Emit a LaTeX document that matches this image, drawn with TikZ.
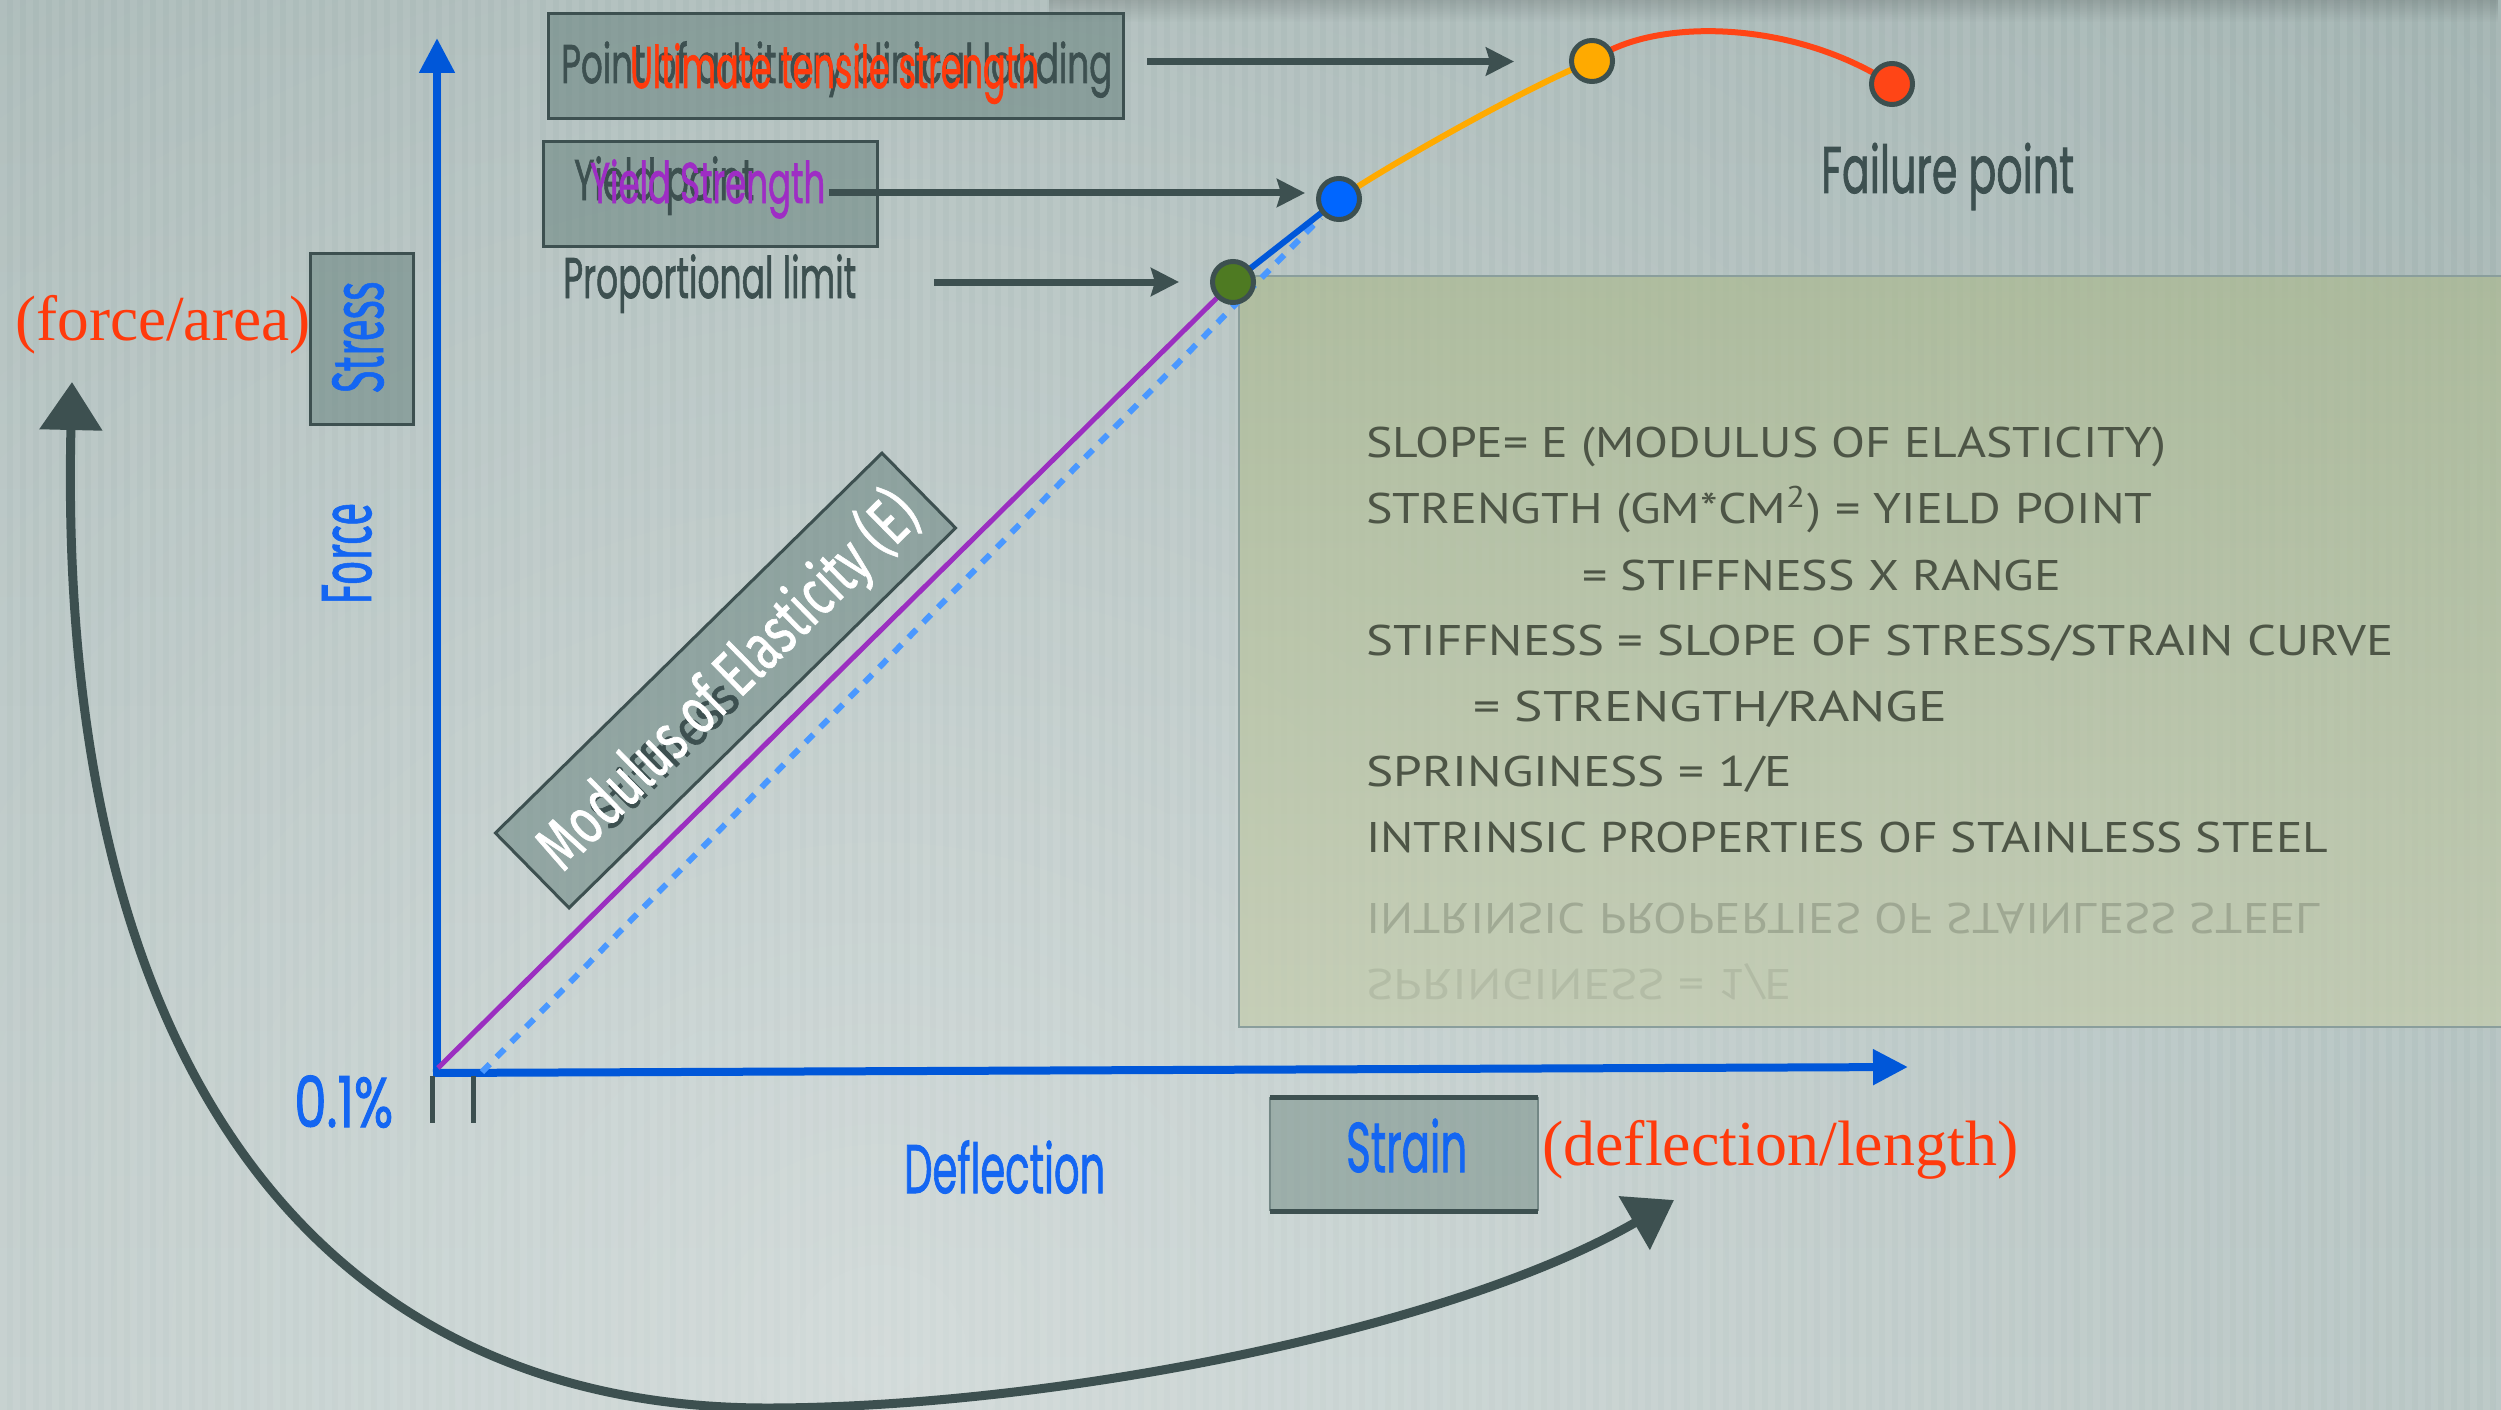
\documentclass[tikz,border=0pt]{standalone}
\usepackage{fontspec}
\usepackage{graphicx}
\usetikzlibrary{arrows.meta,fadings}
\newfontfamily\futura{Poppins}[FakeBold=1.5]
\newfontfamily\humanist{Fira Sans}[FakeBold=1.2]
\newfontfamily\serifred{Liberation Serif}
\newfontfamily\chalk{PT Sans}
% scale a text so that its width and its cap height take given values
\newcommand{\fitcap}[4]{\resizebox{#1}{#2}{#3\smash{#4}\vphantom{E}}}

\definecolor{bgtop}{HTML}{9EB0AE}
\definecolor{bgbot}{HTML}{ADBDBB}
\definecolor{slate}{HTML}{3D5050}
\definecolor{axisblue}{HTML}{0057D9}
\definecolor{labelblue}{HTML}{1466F2}
\definecolor{dashblue}{HTML}{4A98FF}
\definecolor{curvepurple}{HTML}{9B2FC0}
\definecolor{ysviolet}{HTML}{9E2DC4}
\definecolor{hotred}{HTML}{FF3A0C}
\definecolor{dotgreen}{HTML}{4E7A22}
\definecolor{dotblue}{HTML}{0066FF}
\definecolor{dotorange}{HTML}{FFAA00}
\definecolor{dotred}{HTML}{FF4516}
\definecolor{boxfill}{HTML}{5F7C77}
\definecolor{strainfill}{HTML}{6F8981}
\definecolor{panelA}{HTML}{ACBA91}
\definecolor{panelB}{HTML}{C4CCAC}
\definecolor{paneledge}{HTML}{8A9E9C}
\definecolor{paneltext}{HTML}{4D5546}

\tikzset{
  lbl/.style={inner sep=0pt, anchor=base west},
  greybox/.style={draw=slate, line width=3pt, fill=boxfill, fill opacity=0.5, inner sep=0pt},
  dot/.style={circle, draw=slate, line width=5pt, minimum size=41pt, inner sep=0pt},
  conn/.style={draw=slate, line width=7pt, -{Stealth[length=28pt,width=28pt,inset=4pt]}},
  axis/.style={draw=axisblue, line width=8pt, -{Triangle[length=35pt,width=34pt]}},
  sketchline/.style={draw=slate, line width=9pt, line cap=round},
}
\tikzfading[name=lightspot, inner color=transparent!55, outer color=transparent!100]
\tikzfading[name=topshadow, top color=transparent!0, bottom color=transparent!100]

\begin{document}
\begin{tikzpicture}[x=1pt, y=-1pt]
\useasboundingbox (0,0) rectangle (2501,1410);

% ---------- background ----------
\begin{scope}
  \clip (0,0) rectangle (2501,1410);
  \shade[top color=bgtop, bottom color=bgbot] (0,0) rectangle (2501,1410);
  \fill[white, path fading=lightspot] (880,1350) circle (2300);
  \foreach \i in {0,...,192} {
    \fill[white, opacity=0.07] (\i*13,0) rectangle ++(6.5,1410);
  }
  \fill[black, opacity=0.14, path fading=topshadow] (1050,0) rectangle (2501,22);
\end{scope}

% ---------- information panel ----------
\node[shade, top color=panelA, bottom color=panelB, opacity=0.7,
      minimum width=1262pt, minimum height=751pt, anchor=north west, inner sep=0pt]
      (panel) at (1239,276) {};
\draw[paneledge, line width=2pt] (panel.south east) -- (panel.south west) -- (panel.north west) -- (panel.north east);

\node[lbl, text=paneltext] (p1) at (1366,457) {\fitcap{800pt}{30pt}{\chalk}{SLOPE= E (MODULUS OF ELASTICITY)}};
\node[lbl, text=paneltext] (p2) at (1366,523) {\fitcap{786pt}{30pt}{\chalk}{STRENGTH (GM*CM\textsuperscript{2}) = YIELD POINT}};
\node[lbl, text=paneltext] (p3) at (1582,590) {\fitcap{479pt}{30pt}{\chalk}{= STIFFNESS X RANGE}};
\node[lbl, text=paneltext] (p4) at (1366,655) {\fitcap{1027pt}{30pt}{\chalk}{STIFFNESS = SLOPE OF STRESS/STRAIN CURVE}};
\node[lbl, text=paneltext] (p5) at (1473,721) {\fitcap{474pt}{30pt}{\chalk}{= STRENGTH/RANGE}};
\node[lbl, text=paneltext] (p6) at (1366,786) {\fitcap{426pt}{30pt}{\chalk}{SPRINGINESS = 1/E}};
\node[lbl, text=paneltext] (p7) at (1366,852) {\fitcap{962pt}{30pt}{\chalk}{INTRINSIC PROPERTIES OF STAINLESS STEEL}};
% mirrored echo of the last two lines
\node[lbl, text=paneltext, text opacity=0.28, yscale=-1] (r1) at (1366,903) {\fitcap{955pt}{30pt}{\chalk}{INTRINSIC PROPERTIES OF STAINLESS STEEL}};
\node[lbl, text=paneltext, text opacity=0.13, yscale=-1] (r2) at (1366,969) {\fitcap{426pt}{30pt}{\chalk}{SPRINGINESS = 1/E}};

% ---------- curved sketch arrow ----------
\draw[sketchline, {Triangle[length=48pt,width=61pt]}-{Triangle[length=46pt,width=60pt]}]
  (72,382) .. controls (56,1080) and (330,1408) .. (767,1408)
           .. controls (1050,1408) and (1450,1330) .. (1674,1200);

% ---------- axes ----------
\coordinate (O) at (438,1068);
\coordinate (dashstart) at (482,1072);
\draw[axis] (437,1077) -- (437,38);
\draw[axis] (433,1073) -- (1908,1067);
\draw[slate, line width=5pt] (432,1076) -- (432,1123);
\draw[slate, line width=5pt] (473,1076) -- (473,1123);

% ---------- stress-strain curve ----------
\coordinate (cpl) at (1233,282);
\coordinate (cyp) at (1339,199);
\coordinate (cuts) at (1592,61);
\coordinate (cfail) at (1892,84);
\draw[dashblue, line width=6pt, dash pattern=on 11pt off 10pt, shorten >=26pt] (dashstart) -- (cyp);
\draw[curvepurple, line width=5pt] (O) -- (cpl);
\draw[axisblue, line width=6pt] (cpl) -- (cyp);
\draw[dotorange, line width=6pt] (cyp) .. controls (1380,170) and (1530,85) .. (cuts);
\draw[dotred, line width=6pt] (cuts) .. controls (1650,18) and (1790,18) .. (cfail);

\node[dot, fill=dotgreen] (pl) at (cpl) {};
\node[dot, fill=dotblue] (yp) at (cyp) {};
\node[dot, fill=dotorange] (uts) at (cuts) {};
\node[dot, fill=dotred] (fail) at (cfail) {};

% ---------- labelled boxes at the top ----------
\node[greybox, minimum width=575pt, minimum height=105pt, anchor=north west] (ptbox) at (547,12) {};
\node[lbl, text=slate] (poc) at (561,83) {\fitcap{551pt}{38pt}{\futura}{Point of arbitrary clinical loading}};
\node[lbl, text=hotred] (utsl) at (630,88) {\fitcap{409pt}{41pt}{\futura}{Ultimate tensile strength}};

\node[greybox, minimum width=334pt, minimum height=105pt, anchor=north west] (ypbox) at (542,140) {};
\node[lbl, text=slate] (ypl) at (574,200) {\fitcap{180pt}{40pt}{\futura}{Yield point}};
\node[lbl, text=ysviolet] (ysl) at (590,203) {\fitcap{235pt}{40pt}{\futura}{Yield Strength}};

\node[lbl, text=slate] (pll) at (563,298) {\fitcap{293pt}{40pt}{\futura}{Proportional limit}};
\node[lbl, text=slate] (fpl) at (1821,193) {\fitcap{253pt}{46pt}{\futura}{Failure point}};

% ---------- pointer arrows ----------
\draw[conn, shorten <=22pt, shorten >=55pt] ([yshift=4.5pt]ptbox.east) -- ([yshift=4.5pt]ptbox.east -| uts.west);
\draw[conn, shorten <=4pt, shorten >=11pt] ([yshift=-10pt]ysl.east) -- ([yshift=-10pt]ysl.east -| yp.west);
\draw[conn, shorten <=78pt, shorten >=31pt] (pll.east |- pl.center) -- (pl.west);

% ---------- axis labels ----------
\node[greybox, minimum width=103pt, minimum height=171pt, anchor=north west] (stressbox) at (309,252) {};
\node[lbl, rotate=90, text=labelblue] (stressl) at (383,393) {\fitcap{111pt}{50pt}{\humanist}{Stress}};
\node[lbl, rotate=90, text=labelblue] (forcel) at (371,605) {\fitcap{102pt}{49pt}{\humanist}{Force}};
\node[lbl, text=hotred] (fa) at (15,340) {\fitcap{295pt}{42pt}{\serifred}{(force/area)}};

\node[lbl, text=labelblue] (zero) at (294,1127) {\fitcap{99pt}{49pt}{\futura}{0.1\%}};
\node[lbl, text=labelblue] (defl) at (904,1193) {\fitcap{201pt}{48pt}{\futura}{Deflection}};

\node[fill=strainfill, fill opacity=0.5, minimum width=268pt, minimum height=114pt, anchor=north west, inner sep=0pt] (strainbox) at (1270,1097) {};
\draw[paneledge!70!slate, line width=2pt] (strainbox.north west) -- (strainbox.south west);
\draw[paneledge!70!slate, line width=2pt] (strainbox.north east) -- (strainbox.south east);
\draw[slate, line width=5pt] (strainbox.north west) -- (strainbox.north east);
\draw[slate, line width=5pt] (strainbox.south west) -- (strainbox.south east);
\node[lbl, text=labelblue] (strainl) at (1346,1172) {\fitcap{121pt}{49pt}{\futura}{Strain}};
\node[lbl, text=hotred] (dl) at (1542,1165) {\fitcap{476pt}{42pt}{\serifred}{(deflection/length)}};

% ---------- slanted modulus label ----------
\node[greybox, minimum width=542pt, minimum height=105pt, rotate=44.5] (modbox) at (725.5,680.5) {};
\node[inner sep=0pt, rotate=44.5, text=slate] (stiffl) at (664,754) {\fitcap{185pt}{36pt}{\humanist}{Stiffness}};
\node[inner sep=0pt, rotate=44.5, text=white] (modl) at (727,680) {\fitcap{505pt}{45pt}{\humanist}{Modulus of Elasticity (E)}};

\end{tikzpicture}
\end{document}
